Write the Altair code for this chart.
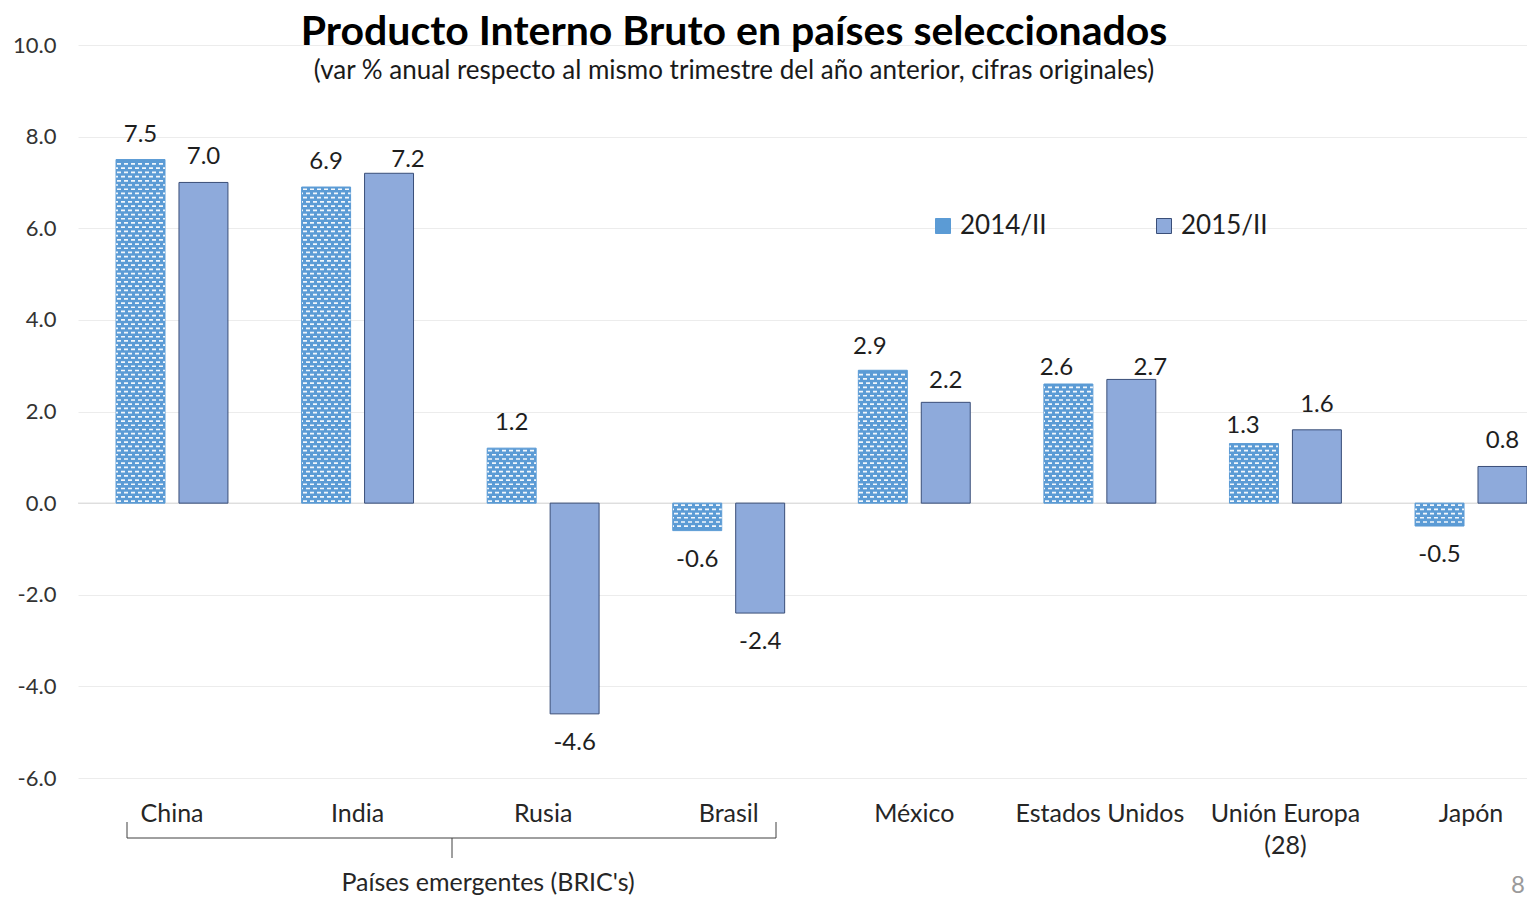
import altair as alt
import pandas as pd

countries = ["China", "India", "Rusia", "Brasil", "México", "Estados Unidos", "Unión Europa (28)", "Japón"]
series = ["2014/II", "2015/II"]
v2014 = [7.5, 6.9, 1.2, -0.6, 2.9, 2.6, 1.3, -0.5]
v2015 = [7.0, 7.2, -4.6, -2.4, 2.2, 2.7, 1.6, 0.8]
y_ticks = [-6, -4, -2, 0, 2, 4, 6, 8, 10]

title_text = "Producto Interno Bruto en países seleccionados"
subtitle_text = "(var % anual respecto al mismo trimestre del año anterior, cifras originales)"
group_text = "Países emergentes (BRIC's)"

rows = []
for c, a, b in zip(countries, v2014, v2015):
    rows.append({"pais": c, "serie": series[0], "valor": a})
    rows.append({"pais": c, "serie": series[1], "valor": b})
df = pd.DataFrame(rows)
df14 = df[df.serie == series[0]]

FONT = "Lato"
C14 = "#5b9bd5"
C15 = "#8eaadb"
EDGE = "#3a4e78"

# label nudges (pixels) for labels that were moved by hand in the original
nudges = [
    ("India", "2015/II", 19, 12),
    ("México", "2014/II", -13, 2),
    ("México", "2015/II", 0, 4),
    ("Estados Unidos", "2014/II", -12, 9),
    ("Estados Unidos", "2015/II", 19, 14),
    ("Unión Europa (28)", "2014/II", -11, 7),
]

xenc = alt.X("pais:N", sort=countries,
             scale=alt.Scale(range=[0, 1487], paddingInner=0.397, paddingOuter=0.205),
             axis=alt.Axis(title=None, labelAngle=0, ticks=False, domain=False, grid=False,
                           labelFontSize=25, labelFont=FONT, labelColor="#262626",
                           labelPadding=23, labelLimit=0, labelLineHeight=32, labelBaseline="top",
                           labelExpr="datum.label == 'Unión Europa (28)' ? ['Unión Europa', '(28)'] : datum.label"))
xoff = alt.XOffset("serie:N", sort=series,
                   scale=alt.Scale(domain=series, paddingInner=0.222, paddingOuter=0))
yenc = alt.Y("valor:Q", scale=alt.Scale(domain=[-6, 10], nice=False),
             axis=alt.Axis(title=None, values=y_ticks, format=".1f", ticks=False, domain=False,
                           labelFontSize=22, labelFont=FONT, labelColor="#333333", labelPadding=22,
                           labelExpr="replace(datum.label, '\u2212', '-')",
                           gridColor="#ececec", gridWidth=1))

base = alt.Chart(df).transform_calculate(
    lab="replace(format(datum.valor, '.1f'), '\u2212', '-')"
)

zero = alt.Chart(pd.DataFrame({"z": [0]})).mark_rule(color="#d6d6d6", strokeWidth=1).encode(
    y=alt.Y("z:Q", scale=alt.Scale(domain=[-6, 10], nice=False)))

bars = alt.Chart(df).mark_bar(strokeWidth=1).encode(
    x=xenc, xOffset=xoff, y=yenc,
    fill=alt.Fill("serie:N", scale=alt.Scale(domain=series, range=[C14, C15]),
                  legend=alt.Legend(title=None)),
    stroke=alt.Stroke("serie:N", scale=alt.Scale(domain=series, range=[C14, EDGE]),
                      legend=alt.Legend(title=None)),
)

def stops(shift):
    period = 7.0
    w = 49.0
    out = []
    T = "rgba(255,255,255,0)"
    W = "rgba(255,255,255,0.92)"
    segs = []
    k = -1
    while True:
        a = k * period + 1 + shift
        b = a + 4
        if a >= w:
            break
        a2, b2 = max(a, 0), min(b, w)
        if b2 > a2:
            segs.append((a2 / w, b2 / w))
        k += 1
    for a, b in segs:
        out.append(alt.GradientStop(offset=a, color=T))
        out.append(alt.GradientStop(offset=a, color=W))
        out.append(alt.GradientStop(offset=b, color=W))
        out.append(alt.GradientStop(offset=b, color=T))
    return out

def pattern(par, shift):
    return alt.Chart(df14).transform_calculate(
        n="floor((abs(datum.valor) - 0.06) / 0.092) + 1"
    ).transform_calculate(
        idx="sequence(0, datum.n)"
    ).transform_flatten(["idx"]).transform_calculate(
        sgn="datum.valor < 0 ? -1 : 1",
        par="datum.idx % 2",
    ).transform_calculate(
        y0="datum.sgn * (datum.idx * 0.092 + 0.025)",
        y1="datum.sgn * (datum.idx * 0.092 + 0.062)",
    ).transform_filter(f"datum.par == {par}").mark_bar(
        fill=alt.Gradient(gradient="linear", stops=stops(shift), x1=0, x2=1, y1=0, y2=0),
        strokeWidth=0,
    ).encode(
        x=xenc, xOffset=xoff,
        y=alt.Y("y0:Q", scale=alt.Scale(domain=[-6, 10], nice=False)),
        y2="y1:Q",
    )

nudge_expr = " || ".join(
    f"(datum.pais == '{p}' && datum.serie == '{s}')" for p, s, _, _ in nudges
)

def label_layer(flt, dx, dy):
    return base.transform_filter(flt).mark_text(
        font=FONT, fontSize=24, color="#1e1e1e", baseline="alphabetic", dx=dx, dy=dy
    ).encode(x=xenc, xOffset=xoff, y=yenc, text="lab:N")

lab_pos = label_layer(f"datum.valor >= 0 && !({nudge_expr})", 0, -18)
lab_neg = label_layer(f"datum.valor < 0 && !({nudge_expr})", 0, 36)
lab_nudged = [
    label_layer(f"datum.pais == '{p}' && datum.serie == '{s}'", dx, -18 + dy)
    for p, s, dx, dy in nudges
]

def txt(s, x, y, size, weight="normal", color="#111111"):
    return alt.Chart(pd.DataFrame({"t": [s]})).mark_text(
        font=FONT, fontSize=size, fontWeight=weight, color=color, align="center", baseline="alphabetic"
    ).encode(x=alt.value(x), y=alt.value(y), text="t:N")

def seg(x1, y1, x2, y2):
    return alt.Chart(pd.DataFrame({"k": [0]})).mark_rule(color="#404040", strokeWidth=1).encode(
        x=alt.value(x1), y=alt.value(y1), x2=alt.value(x2), y2=alt.value(y2))

title = txt(title_text, 656, 0, 41, "bold", "#000000")
subtitle = txt(subtitle_text, 656, 34, 26, "normal", "#1a1a1a")
group = txt(group_text, 410, 846, 25, "normal", "#262626")
page = txt("8", 1440, 848, 24, "normal", "#9a9a9a")

bracket = [
    seg(49, 777, 49, 793),
    seg(49, 793, 698, 793),
    seg(698, 777, 698, 793),
    seg(374, 793, 374, 813),
]

chart = alt.layer(
    zero, bars, pattern(0, 0.0), pattern(1, 3.5), lab_pos, lab_neg, *lab_nudged,
    title, subtitle, group, page, *bracket
).properties(
    width=1449, height=733,
    autosize=alt.AutoSizeParams(type="none"),
    padding={"left": 70, "top": 37, "right": 0, "bottom": 120},
).configure_view(stroke=None).configure_legend(
    orient="none", legendX=852, legendY=168, direction="horizontal",
    symbolType="square", symbolSize=225, symbolStrokeWidth=1,
    labelFont=FONT, labelFontSize=26, labelColor="#1e1e1e",
    labelOffset=4, columnPadding=104,
).configure_text(font=FONT)

chart.save("out.html", embed_options={"renderer": "svg", "actions": False})
